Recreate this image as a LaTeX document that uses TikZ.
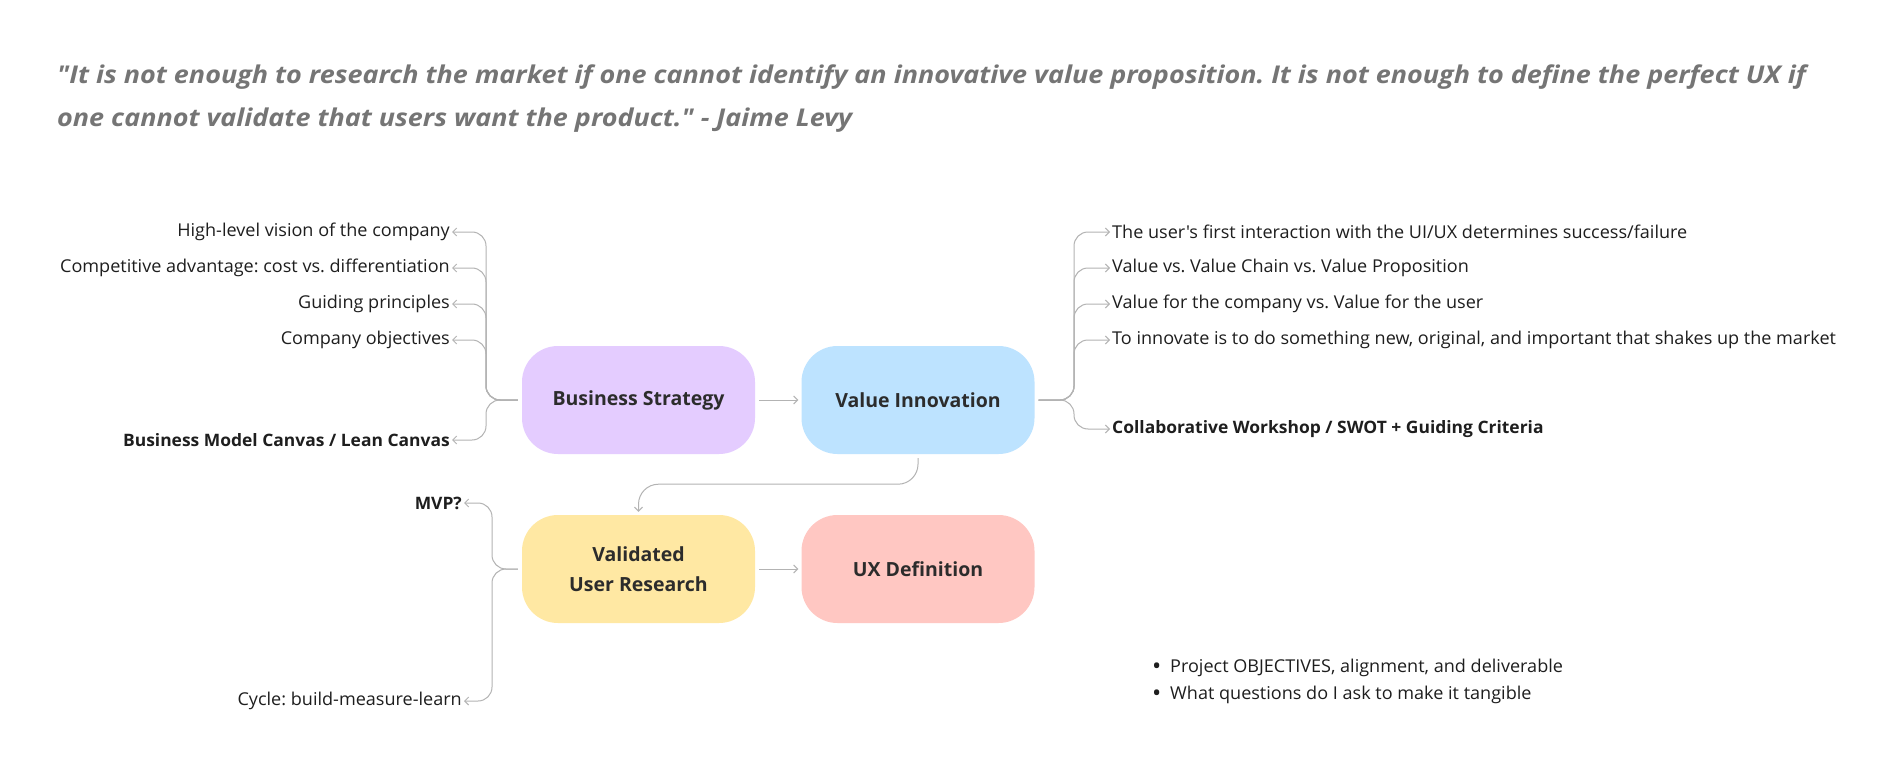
\documentclass[tikz,border=0pt]{standalone}
\usepackage{fontspec}
\setmainfont{Open Sans}[Ligatures=TeXOff, FakeStretch=1.02]
\newfontfamily\quotefont{Open Sans}[Ligatures=TeXOff, FakeStretch=1.1]
\newfontfamily\boxfont{Open Sans}[Ligatures=TeXOff]
\usetikzlibrary{arrows.meta,calc}
\definecolor{bsfill}{HTML}{E4CCFF}
\definecolor{vifill}{HTML}{BDE3FF}
\definecolor{vurfill}{HTML}{FFE8A3}
\definecolor{uxfill}{HTML}{FFC7C2}
\definecolor{linec}{HTML}{B3B3B3}
\definecolor{txt}{HTML}{1E1E1E}
\definecolor{boxtxt}{HTML}{2C2C2C}
\definecolor{quotec}{HTML}{757575}
\frenchspacing
\begin{document}
\begin{tikzpicture}[x=1pt,y=-1pt,
  box/.style={rounded corners=36pt, minimum width=233pt, minimum height=108pt, inner sep=0pt,
    font=\boxfont\fontsize{19.5}{30}\selectfont\bfseries, text=boxtxt, align=center},
  lbl/.style={font=\fontsize{17.7}{20}\selectfont, text=txt, inner sep=2pt},
  lblb/.style={lbl, font=\fontsize{17.1}{20}\selectfont\bfseries},
  conn/.style={draw=linec, line width=1pt, rounded corners=14pt,
    -{Straight Barb[length=4pt,width=8pt]}},
]
\useasboundingbox (0,0) rectangle (1900,770);
\fill[white] (0,0) rectangle (1900,770);

% quote
\node[anchor=base west, inner sep=0pt, align=left, text=quotec,
  font=\quotefont\fontsize{24.5}{43.5}\selectfont\bfseries\itshape] (quote) at (57,127)
  {"It is not enough to research the market if one cannot identify an innovative value proposition. It is not enough to define the perfect UX if\\
   one cannot validate that users want the product." - Jaime Levy};

% main boxes
\node[box, fill=bsfill] (bs) at (638.5,400) {Business Strategy};
\node[box, fill=vifill] (vi) at (918,400) {Value Innovation};
\node[box, fill=vurfill] (vur) at (638.5,569) {Validated\\User Research};
\node[box, fill=uxfill] (ux) at (918,569) {UX Definition};

% left labels
\node[lbl, anchor=east] (l1) at (452,232) {High-level vision of the company};
\node[lbl, anchor=east] (l2) at (452,268) {Competitive advantage: cost vs. differentiation};
\node[lbl, anchor=east] (l3) at (452,304) {Guiding principles};
\node[lbl, anchor=east] (l4) at (452,340) {Company objectives};
\node[lblb, anchor=east] (l5) at (452,440) {Business Model Canvas / Lean Canvas};

% right labels
\node[lbl, anchor=west] (r1) at (1110,232) {The user's first interaction with the UI/UX determines success/failure};
\node[lbl, anchor=west] (r2) at (1110,268) {Value vs. Value Chain vs. Value Proposition};
\node[lbl, anchor=west] (r3) at (1110,304) {Value for the company vs. Value for the user};
\node[lbl, anchor=west] (r4) at (1110,340) {To innovate is to do something new, original, and important that shakes up the market};
\node[lblb, anchor=west] (r5) at (1110,429) {Collaborative Workshop / SWOT + Guiding Criteria};

% VUR labels
\node[lblb, anchor=east] (m1) at (464,503) {MVP?};
\node[lbl, anchor=east] (m2) at (464,701) {Cycle: build-measure-learn};

% bullets
\node[lbl, anchor=west, align=left, inner sep=0pt] (b1) at (1152,668) {\makebox[18pt][l]{\raisebox{-2pt}{\fontsize{24}{20}\selectfont •}}Project OBJECTIVES, alignment, and deliverable};
\node[lbl, anchor=west, align=left, inner sep=0pt] (b2) at (1152,695) {\makebox[18pt][l]{\raisebox{-2pt}{\fontsize{24}{20}\selectfont •}}What questions do I ask to make it tangible};

% connectors
\draw[conn, shorten <=4pt, shorten >=3pt, rounded corners=0pt] (bs.east) -- (vi.west);
\draw[conn, shorten <=4pt, shorten >=3pt, rounded corners=0pt] (vur.east) -- (ux.west);
\draw[conn, shorten <=4pt, shorten >=3pt, rounded corners=20pt] (vi.south) -- ($(vi.south)+(0,30)$) -| (vur.north);

\foreach \t in {l1,l2,l3,l4,l5}{
  \draw[conn, shorten <=4pt] (bs.west) -| ($(\t.east)+(34,0)$) -- (\t.east);
}
\foreach \t in {r1,r2,r3,r4,r5}{
  \draw[conn, shorten <=4pt] (vi.east) -| ($(\t.west)+(-36,0)$) -- (\t.west);
}
\foreach \t in {m1,m2}{
  \draw[conn, shorten <=4pt] (vur.west) -| ($(\t.east)+(28,0)$) -- (\t.east);
}
\end{tikzpicture}
\end{document}
